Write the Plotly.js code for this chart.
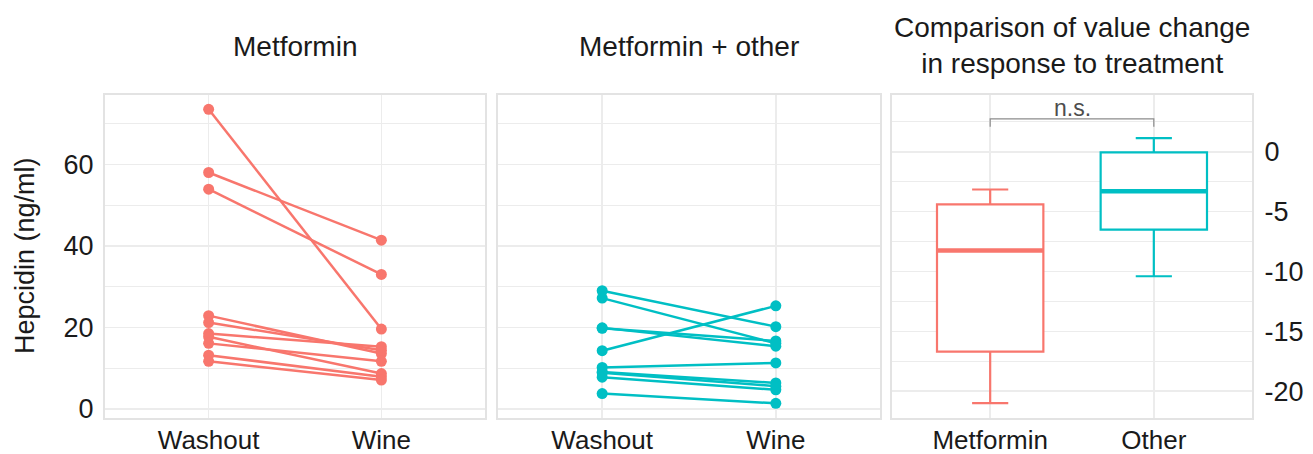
<!DOCTYPE html>
<html>
<head>
<meta charset="utf-8">
<script src="https://cdn.plot.ly/plotly-3.0.1.min.js"></script>
<style>
html,body{margin:0;padding:0;background:#fff;}
#chart{width:1313px;height:454px;}
</style>
</head>
<body>
<div id="chart"></div>
<script>
// ---------- data ----------
const timepoints = ['Washout', 'Wine'];

const metforminWashout = [73.5, 58.0, 53.9, 22.9, 21.2, 18.5, 17.7, 16.1, 13.2, 11.7];
const metforminWine    = [19.6, 41.4, 33.0, 13.6, 14.4, 15.3, 8.7, 11.7, 7.9, 7.1];

const otherWashout = [29.0, 27.2, 19.9, 19.8, 14.3, 10.2, 9.1, 8.9, 7.8, 3.8];
const otherWine    = [20.2, 16.1, 15.4, 16.7, 25.3, 11.3, 6.4, 5.6, 4.7, 1.4];

const groups        = ['Metformin', 'Other'];
const boxLowerFence = [-21.0, -10.4];
const boxQ1         = [-16.7, -6.5];
const boxMedian     = [-8.25, -3.3];
const boxQ3         = [-4.4, -0.05];
const boxUpperFence = [-3.15, 1.15];

const leftTickVals  = [0, 20, 40, 60];
const leftTickText  = ['0', '20', '40', '60'];
const rightTickVals = [0, -5, -10, -15, -20];
const rightTickText = ['0', '-5', '-10', '-15', '-20'];

const panelTitles = ['Metformin', 'Metformin + other', 'Comparison of value change<br>in response to treatment'];
const yTitle = 'Hepcidin (ng/ml)';
const sigLabel = 'n.s.';

// ---------- style ----------
const RED = '#F8766D';
const CYAN = '#00BFC4';
const FONT = 'Liberation Sans, Arial, Helvetica, sans-serif';
const TXT = '#1a1a1a';
const GRID = '#ececec';
const BORDER = '#e3e3e3';
const W = 1313, H = 454;
const px = v => v / W;
const py = v => (H - v) / H;

const traces = [];
function addPairs(wash, wine, color, xa, ya) {
  for (let i = 0; i < wash.length; i++) {
    traces.push({
      type: 'scatter', mode: 'lines+markers',
      x: timepoints, y: [wash[i], wine[i]],
      xaxis: xa, yaxis: ya,
      line: {color: color, width: 2.5},
      marker: {color: color, size: 11},
      showlegend: false, hoverinfo: 'skip'
    });
  }
}
addPairs(metforminWashout, metforminWine, RED, 'x', 'y');
addPairs(otherWashout, otherWine, CYAN, 'x2', 'y2');

const boxColors = [RED, CYAN];
const boxWidth = 0.65;
groups.forEach((g, i) => {
  traces.push({
    type: 'box', x: [i], xaxis: 'x3', yaxis: 'y3',
    q1: [boxQ1[i]], median: [boxMedian[i]], q3: [boxQ3[i]],
    lowerfence: [boxLowerFence[i]], upperfence: [boxUpperFence[i]],
    width: boxWidth, whiskerwidth: 0.34,
    fillcolor: '#ffffff', line: {color: boxColors[i], width: 2.2},
    boxpoints: false, showlegend: false, hoverinfo: 'skip', name: g
  });
  traces.push({
    type: 'scatter', mode: 'lines', xaxis: 'x3', yaxis: 'y3',
    x: [i - boxWidth / 2, i + boxWidth / 2], y: [boxMedian[i], boxMedian[i]],
    line: {color: boxColors[i], width: 4.5}, showlegend: false, hoverinfo: 'skip'
  });
});

const yDom = [py(418), py(95)];
const baseX = {
  showline: true, mirror: true, linecolor: BORDER, linewidth: 2,
  showgrid: true, gridcolor: GRID, gridwidth: 1.5, zeroline: false,
  ticks: '', tickfont: {family: FONT, size: 26, color: TXT},
  range: [-0.6, 1.6], fixedrange: true
};
const baseY = {
  showline: true, mirror: true, linecolor: BORDER, linewidth: 2,
  showgrid: true, gridcolor: GRID, gridwidth: 1.5, zeroline: false,
  ticks: '', tickfont: {family: FONT, size: 27, color: TXT},
  domain: yDom, fixedrange: true
};

const layout = {
  width: W, height: H,
  margin: {l: 0, r: 0, t: 0, b: 0},
  paper_bgcolor: '#ffffff', plot_bgcolor: '#ffffff',
  showlegend: false,
  boxmode: 'overlay',
  font: {family: FONT, color: TXT},
  xaxis: Object.assign({}, baseX, {domain: [px(105), px(485)], anchor: 'y', type: 'category', categoryarray: timepoints, ticklabelstandoff: -2}),
  yaxis: Object.assign({}, baseY, {anchor: 'x', range: [-2.2, 77], tickvals: leftTickVals, ticktext: leftTickText,
    minor: {dtick: 10, tick0: 0, showgrid: true, gridcolor: GRID, gridwidth: 1}, ticklabelstandoff: 4}),
  xaxis2: Object.assign({}, baseX, {domain: [px(498), px(880)], anchor: 'y2', type: 'category', categoryarray: timepoints, ticklabelstandoff: -2}),
  yaxis2: Object.assign({}, baseY, {anchor: 'x2', range: [-2.2, 77], tickvals: leftTickVals, showticklabels: false,
    minor: {dtick: 10, tick0: 0, showgrid: true, gridcolor: GRID, gridwidth: 1}}),
  xaxis3: Object.assign({}, baseX, {domain: [px(892), px(1252)], anchor: 'y3', type: 'linear', tickvals: [0, 1], ticktext: groups, ticklabelstandoff: -2}),
  yaxis3: Object.assign({}, baseY, {anchor: 'x3', side: 'right', range: [-22.25, 4.75], tickvals: rightTickVals, ticktext: rightTickText,
    minor: {dtick: 2.5, tick0: 0, showgrid: true, gridcolor: GRID, gridwidth: 1}, ticklabelstandoff: 5}),
  shapes: [{
    type: 'path', xref: 'x3', yref: 'y3',
    path: 'M0,2.1 L0,2.75 L1,2.75 L1,2.1',
    line: {color: '#8c8c8c', width: 1.2}
  }],
  annotations: [
    {text: panelTitles[0], xref: 'paper', yref: 'paper', x: px(295), y: py(46), xanchor: 'center', yanchor: 'middle', showarrow: false, font: {family: FONT, size: 28, color: TXT}},
    {text: panelTitles[1], xref: 'paper', yref: 'paper', x: px(689), y: py(46), xanchor: 'center', yanchor: 'middle', showarrow: false, font: {family: FONT, size: 28, color: TXT}},
    {text: panelTitles[2], xref: 'paper', yref: 'paper', x: px(1072), y: py(45), xanchor: 'center', yanchor: 'middle', showarrow: false, font: {family: FONT, size: 28, color: TXT}},
    {text: yTitle, xref: 'paper', yref: 'paper', x: px(25), y: py(256), xanchor: 'center', yanchor: 'middle', textangle: -90, showarrow: false, font: {family: FONT, size: 27, color: TXT}},
    {text: sigLabel, xref: 'x3', yref: 'y3', x: 0.5, y: 2.75, xanchor: 'center', yanchor: 'bottom', showarrow: false, font: {family: FONT, size: 23, color: '#4d4d4d'}, yshift: -4}
  ]
};

Plotly.newPlot('chart', traces, layout, {staticPlot: true, displayModeBar: false});
</script>
</body>
</html>
